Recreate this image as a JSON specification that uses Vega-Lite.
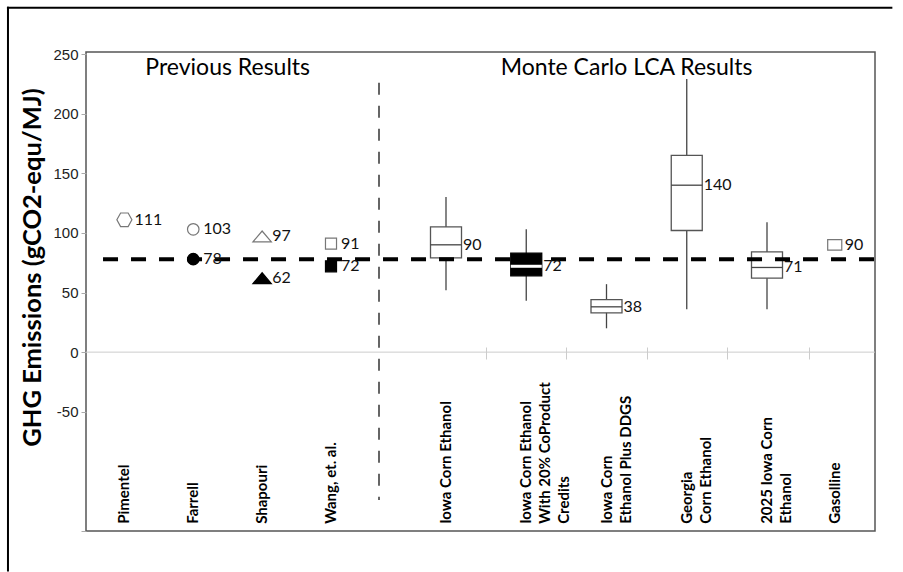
{
  "$schema": "https://vega.github.io/schema/vega-lite/v6.json",
  "width": 789,
  "height": 479,
  "autosize": {"type": "none"},
  "padding": {"left": 86, "top": 52, "right": 28, "bottom": 41},
  "background": "white",
  "config": {
    "view": {"stroke": "#555555", "strokeWidth": 1.5},
    "text": {"font": "Lato", "color": "#111111"}
  },
  "datasets": {
    "studies": [
      {"study": "Pimentel", "k": 1, "value": 111, "basis": "reported"},
      {"study": "Farrell", "k": 2, "value": 103, "basis": "reported"},
      {"study": "Farrell", "k": 2, "value": 78, "basis": "adjusted"},
      {"study": "Shapouri", "k": 3, "value": 97, "basis": "reported"},
      {"study": "Shapouri", "k": 3, "value": 62, "basis": "adjusted"},
      {"study": "Wang, et. al.", "k": 4, "value": 91, "basis": "reported"},
      {"study": "Wang, et. al.", "k": 4, "value": 72, "basis": "adjusted"},
      {"study": "Gasolline", "k": 10, "value": 90, "basis": "reported"}
    ],
    "lca": [
      {"scenario": "Iowa Corn Ethanol", "k": 5, "lower": 52, "q1": 79, "median": 90, "q3": 105, "upper": 130},
      {"scenario": "Iowa Corn Ethanol With 20% CoProduct Credits", "k": 6, "lower": 43, "q1": 64, "median": 72, "q3": 83, "upper": 103},
      {"scenario": "Iowa Corn Ethanol Plus DDGS", "k": 7, "lower": 20, "q1": 33, "median": 38, "q3": 44, "upper": 57},
      {"scenario": "Georgia Corn Ethanol", "k": 8, "lower": 36, "q1": 102, "median": 140, "q3": 165, "upper": 229},
      {"scenario": "2025 Iowa Corn Ethanol", "k": 9, "lower": 36, "q1": 62, "median": 71, "q3": 84, "upper": 109}
    ],
    "categories": [
      {"k": 1, "name": "Pimentel"},
      {"k": 2, "name": "Farrell"},
      {"k": 3, "name": "Shapouri"},
      {"k": 4, "name": "Wang, et. al."},
      {"k": 5, "name": "Iowa Corn Ethanol"},
      {"k": 6, "name": "Iowa Corn Ethanol\nWith 20% CoProduct\nCredits"},
      {"k": 7, "name": "Iowa Corn\nEthanol Plus DDGS"},
      {"k": 8, "name": "Georgia\nCorn Ethanol"},
      {"k": 9, "name": "2025 Iowa Corn\nEthanol"},
      {"k": 10, "name": "Gasolline"}
    ]
  },
  "layer": [
    {
      "data": {"name": "lca"},
      "mark": {"type": "rule", "stroke": "#444444", "strokeWidth": 1.3},
      "encoding": {
        "x": {
          "field": "k",
          "type": "quantitative",
          "scale": {"domain": [1, 4, 4.5, 5, 9, 9.5, 10], "range": [34, 245, 293, 360, 681, 723, 752], "zero": false, "nice": false},
          "axis": {
            "title": null,
            "orient": "bottom",
            "offset": -184,
            "values": [5.5, 6.5, 7.5, 8.5, 9.5],
            "domain": false,
            "labels": false,
            "grid": false,
            "ticks": true,
            "tickSize": 12,
            "tickColor": "#cccccc",
            "tickWidth": 1
          }
        },
        "y": {
          "field": "lower",
          "type": "quantitative",
          "scale": {"domain": [-150, 251.7], "nice": false, "zero": false},
          "axis": {
            "title": "GHG Emissions (gCO2-equ/MJ)",
            "values": [-150, -50, 0, 50, 100, 150, 200, 250],
            "labelExpr": "datum.value < -100 ? '' : '' + datum.value",
            "grid": false,
            "domain": false,
            "tickColor": "#aaaaaa",
            "tickSize": 5,
            "labelFont": "Liberation Sans",
            "labelFontSize": 15,
            "labelColor": "#222222",
            "labelPadding": 3,
            "titleFont": "Lato",
            "titleFontSize": 25.5,
            "titleFontWeight": "bold",
            "titleColor": "#000000",
            "titleAngle": 270,
            "titleAlign": "center",
            "titleBaseline": "middle",
            "titleX": -54,
            "titleY": 215
          }
        },
        "y2": {"field": "upper"}
      }
    },
    {
      "data": {"values": [{}]},
      "mark": {"type": "rule", "stroke": "#000000", "strokeWidth": 2},
      "encoding": {
        "x": {"datum": -0.69, "type": "quantitative", "scale": {"domain": [1, 4, 4.5, 5, 9, 9.5, 10], "range": [34, 245, 293, 360, 681, 723, 752], "zero": false, "nice": false}},
        "y": {"datum": 289.7, "type": "quantitative", "scale": {"domain": [-150, 251.7], "nice": false, "zero": false}},
        "y2": {"datum": -184}
      }
    },
    {
      "data": {"values": [{}]},
      "mark": {"type": "rule", "stroke": "#000000", "strokeWidth": 2},
      "encoding": {
        "x": {"datum": -0.705, "type": "quantitative", "scale": {"domain": [1, 4, 4.5, 5, 9, 9.5, 10], "range": [34, 245, 293, 360, 681, 723, 752], "zero": false, "nice": false}},
        "x2": {"datum": 11.12},
        "y": {"datum": 288.9, "type": "quantitative", "scale": {"domain": [-150, 251.7], "nice": false, "zero": false}}
      }
    },
    {
      "data": {"values": [{}]},
      "mark": {"type": "rule", "stroke": "#cccccc", "strokeWidth": 1},
      "encoding": {
        "y": {"datum": 0, "type": "quantitative", "scale": {"domain": [-150, 251.7], "nice": false, "zero": false}}
      }
    },
    {
      "data": {"values": [{}]},
      "mark": {"type": "rule", "stroke": "#555555", "strokeWidth": 1.8, "strokeDash": [12, 11]},
      "encoding": {
        "x": {"datum": 4.5, "type": "quantitative", "scale": {"domain": [1, 4, 4.5, 5, 9, 9.5, 10], "range": [34, 245, 293, 360, 681, 723, 752], "zero": false, "nice": false}},
        "y": {"datum": 226, "type": "quantitative", "scale": {"domain": [-150, 251.7], "nice": false, "zero": false}},
        "y2": {"datum": -124}
      }
    },
    {
      "data": {"name": "lca"},
      "mark": {"type": "bar", "size": 31, "strokeWidth": 1.3},
      "encoding": {
        "x": {"field": "k", "type": "quantitative"},
        "y": {"field": "q1", "type": "quantitative"},
        "y2": {"field": "q3"},
        "fill": {
          "condition": {"test": "datum.k === 6", "value": "#000000"},
          "value": "#ffffff"
        },
        "stroke": {
          "condition": {"test": "datum.k === 6", "value": "#000000"},
          "value": "#555555"
        }
      }
    },
    {
      "data": {"name": "lca"},
      "mark": {"type": "rule", "xOffset": -15.5, "x2Offset": 15.5},
      "encoding": {
        "x": {"field": "k", "type": "quantitative"},
        "x2": {"field": "k"},
        "y": {"field": "median", "type": "quantitative"},
        "stroke": {
          "condition": {"test": "datum.k === 6", "value": "#ffffff"},
          "value": "#444444"
        },
        "strokeWidth": {
          "condition": {"test": "datum.k === 6", "value": 3},
          "value": 1.3
        }
      }
    },
    {
      "data": {"name": "studies"},
      "mark": {"type": "point", "size": 256, "strokeWidth": 1.2, "opacity": 1},
      "encoding": {
        "x": {"field": "k", "type": "quantitative"},
        "y": {"field": "value", "type": "quantitative"},
        "shape": {
          "field": "study",
          "type": "nominal",
          "legend": null,
          "scale": {
            "domain": ["Pimentel", "Farrell", "Shapouri", "Wang, et. al.", "Gasolline"],
            "range": [
              "M-0.94,0L-0.47,-0.85L0.47,-0.85L0.94,0L0.47,0.85L-0.47,0.85Z",
              "M-0.72,0A0.72,0.72,0,1,0,0.72,0A0.72,0.72,0,1,0,-0.72,0Z",
              "M-1.15,0.68L0,-0.68L1.15,0.68Z",
              "M-0.69,-0.69L0.69,-0.69L0.69,0.69L-0.69,0.69Z",
              "M-0.88,-0.66L0.88,-0.66L0.88,0.66L-0.88,0.66Z"
            ]
          }
        },
        "fill": {
          "condition": {"test": "datum.basis === 'adjusted'", "value": "#000000"},
          "value": "#ffffff"
        },
        "stroke": {
          "condition": {"test": "datum.basis === 'adjusted'", "value": "#000000"},
          "value": "#777777"
        }
      }
    },
    {
      "data": {"values": [{}]},
      "mark": {"type": "rule", "stroke": "#000000", "strokeWidth": 4, "strokeDash": [15, 13]},
      "encoding": {
        "x": {"datum": 0.69, "type": "quantitative", "scale": {"domain": [1, 4, 4.5, 5, 9, 9.5, 10], "range": [34, 245, 293, 360, 681, 723, 752], "zero": false, "nice": false}},
        "x2": {"datum": 10.9},
        "y": {"datum": 78, "type": "quantitative", "scale": {"domain": [-150, 251.7], "nice": false, "zero": false}}
      }
    },
    {
      "data": {"name": "studies"},
      "mark": {"type": "text", "align": "left", "baseline": "middle", "dx": 10, "fontSize": 16},
      "encoding": {
        "x": {"field": "k", "type": "quantitative"},
        "y": {"field": "value", "type": "quantitative"},
        "text": {"field": "value", "type": "quantitative"}
      }
    },
    {
      "data": {"name": "lca"},
      "mark": {"type": "text", "align": "left", "baseline": "middle", "dx": 17, "fontSize": 16},
      "encoding": {
        "x": {"field": "k", "type": "quantitative"},
        "y": {"field": "median", "type": "quantitative"},
        "text": {"field": "median", "type": "quantitative"}
      }
    },
    {
      "data": {"name": "categories"},
      "mark": {
        "type": "text",
        "angle": 270,
        "align": "left",
        "baseline": "middle",
        "fontSize": 15,
        "fontWeight": "bold",
        "lineBreak": "\n",
        "lineHeight": 19,
        "color": "#000000"
      },
      "encoding": {
        "x": {"field": "k", "type": "quantitative"},
        "y": {"datum": -144, "type": "quantitative", "scale": {"domain": [-150, 251.7], "nice": false, "zero": false}},
        "text": {"field": "name"}
      }
    },
    {
      "data": {"values": [{"heading": "Previous Results"}]},
      "mark": {"type": "text", "align": "center", "baseline": "middle", "fontSize": 23, "color": "#000000"},
      "encoding": {
        "x": {"datum": 2.5, "type": "quantitative", "scale": {"domain": [1, 4, 4.5, 5, 9, 9.5, 10], "range": [34, 245, 293, 360, 681, 723, 752], "zero": false, "nice": false}},
        "y": {"datum": 238, "type": "quantitative", "scale": {"domain": [-150, 251.7], "nice": false, "zero": false}},
        "text": {"field": "heading"}
      }
    },
    {
      "data": {"values": [{"heading": "Monte Carlo LCA Results"}]},
      "mark": {"type": "text", "align": "center", "baseline": "middle", "fontSize": 23, "color": "#000000"},
      "encoding": {
        "x": {"datum": 7.25, "type": "quantitative", "scale": {"domain": [1, 4, 4.5, 5, 9, 9.5, 10], "range": [34, 245, 293, 360, 681, 723, 752], "zero": false, "nice": false}},
        "y": {"datum": 238, "type": "quantitative", "scale": {"domain": [-150, 251.7], "nice": false, "zero": false}},
        "text": {"field": "heading"}
      }
    }
  ]
}
